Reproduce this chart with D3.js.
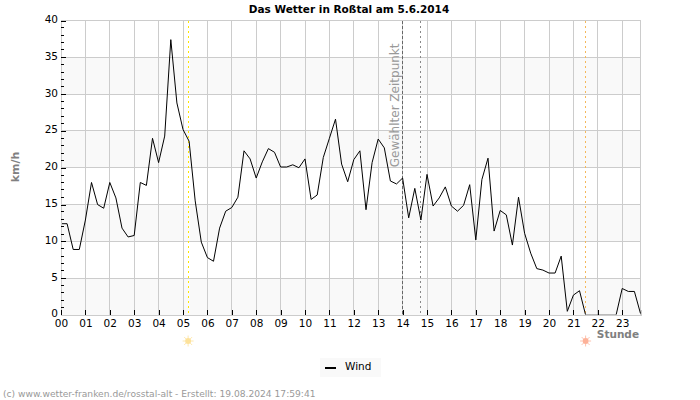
<!DOCTYPE html>
<html>
<head>
<meta charset="utf-8">
<script src="https://cdn.jsdelivr.net/npm/d3@7"></script>
<style>
  html, body { margin: 0; padding: 0; background: #fff; }
  svg { display: block; font-family: "DejaVu Sans", sans-serif; }
</style>
</head>
<body>
<svg id="chart"></svg>
<script>
// wind in km/h, one reading every 15 minutes from 00:00
const wind = [
  12.4, 12.4, 8.9, 8.9, 12.9, 18.0, 15.0, 14.5,
  18.0, 15.9, 11.8, 10.6, 10.8, 18.0, 17.6, 24.0,
  20.7, 24.3, 37.4, 28.8, 25.2, 23.6, 15.5, 9.9,
  7.8, 7.3, 11.8, 14.1, 14.6, 16.0, 22.3, 21.2,
  18.6, 20.8, 22.6, 22.1, 20.1, 20.1, 20.4, 20.0,
  21.2, 15.7, 16.3, 21.4, 24.0, 26.6, 20.5, 18.1,
  21.1, 22.3, 14.3, 20.7, 23.9, 22.7, 18.2, 17.8,
  18.6, 13.2, 17.2, 12.9, 19.1, 14.8, 15.9, 17.4,
  14.8, 14.1, 14.9, 17.7, 10.2, 18.4, 21.3, 11.4,
  14.2, 13.6, 9.5, 16.0, 11.1, 8.4, 6.3, 6.1,
  5.7, 5.7, 8.0, 0.5, 2.7, 3.3, 0, 0,
  0, 0, 0, 0, 3.6, 3.2, 3.2, 0.2
];
const hourTicks = d3.range(0, 24);
const valueTicks = d3.range(0, 41, 5);
const minorTicks = d3.range(0, 41, 1);
const bands = [[0, 5], [10, 15], [20, 25], [30, 35]];
const sunrise = 5.21;
const sunset = 21.5;
const selected = [14, 14.75];

const width = 700, height = 400;
const margin = {top: 20.5, right: 59.5, bottom: 85, left: 61};

const svg = d3.select("#chart").attr("width", width).attr("height", height);

const x = d3.scaleLinear().domain([0, 23.75]).range([margin.left, width - margin.right]);
const y = d3.scaleLinear().domain([0, 40]).range([height - margin.bottom, margin.top]);

// bands and grid
svg.append("g").selectAll("rect").data(bands).enter().append("rect")
    .attr("x", x(0))
    .attr("width", x(23.75) - x(0))
    .attr("y", d => y(d[1]))
    .attr("height", d => y(d[0]) - y(d[1]))
    .attr("fill", "#f9f9f9");

const grid = svg.append("g").attr("stroke", "#cccccc").attr("stroke-width", 1).attr("shape-rendering", "crispEdges");
grid.selectAll(".h").data(valueTicks).enter().append("line")
    .attr("x1", x(0)).attr("x2", x(23.75))
    .attr("y1", d => y(d)).attr("y2", d => y(d));
grid.selectAll(".v").data(hourTicks).enter().append("line")
    .attr("y1", y(0)).attr("y2", y(40))
    .attr("x1", d => x(d)).attr("x2", d => x(d));
grid.append("line")
    .attr("x1", x(23.75)).attr("x2", x(23.75))
    .attr("y1", y(0)).attr("y2", y(40));

// sun and selected time markers
const marker = (t, color, dash) => svg.append("line")
    .attr("x1", x(t)).attr("x2", x(t))
    .attr("y1", y(40)).attr("y2", y(0))
    .attr("stroke", color)
    .attr("stroke-dasharray", dash)
    .attr("shape-rendering", "crispEdges");
marker(sunrise, "#ffe600", "2,3");
marker(sunset, "#f5b85a", "2,3");
marker(selected[0], "#666666", "3,2");
marker(selected[1], "#888888", "2,3");

svg.append("text")
    .attr("transform", `translate(${x(14) - 3.5},${y(20) - 0.5}) rotate(-90)`)
    .attr("font-size", 12)
    .attr("fill", "#999999")
    .text("Gewählter Zeitpunkt");

// wind line, whatever lies on the zero line stays hidden
svg.append("clipPath").attr("id", "above-zero").append("rect")
    .attr("x", x(0)).attr("y", y(40))
    .attr("width", x(23.75) - x(0) + 1)
    .attr("height", y(0) - y(40) - 0.5);

const line = d3.line()
    .x((d, i) => x(i * 0.25))
    .y(d => y(d));
svg.append("path")
    .datum(wind)
    .attr("clip-path", "url(#above-zero)")
    .attr("fill", "none")
    .attr("stroke", "#000")
    .attr("stroke-width", 1)
    .attr("d", line);

// axes, ticks point into the plot
const yAxis = d3.axisLeft(y).tickValues(valueTicks).tickSize(-5).tickPadding(13);
const xAxis = d3.axisBottom(x).tickValues(hourTicks).tickSize(-5).tickPadding(12)
    .tickFormat(d3.format("02d"));

const gy = svg.append("g").attr("transform", `translate(${margin.left},0)`).call(yAxis);
const gx = svg.append("g").attr("transform", `translate(0,${y(0)})`).call(xAxis);
[gy, gx].forEach(g => {
    g.select(".domain").attr("stroke", "#cccccc").attr("shape-rendering", "crispEdges");
    g.selectAll(".tick line").attr("stroke", "#000").attr("shape-rendering", "crispEdges");
    g.selectAll("text").attr("font-size", 10.5).attr("font-family", "DejaVu Sans").attr("fill", "#000");
});
gy.selectAll(".tick text").attr("x", -3).attr("dy", "0.18em");
gx.selectAll(".tick text").attr("y", 4.5);

svg.append("g").selectAll("line").data(minorTicks.filter(d => d % 5 != 0)).enter().append("line")
    .attr("x1", x(0)).attr("x2", x(0) + 3)
    .attr("y1", d => y(d)).attr("y2", d => y(d))
    .attr("stroke", "#000")
    .attr("shape-rendering", "crispEdges");

// titles
svg.append("text")
    .attr("x", 349).attr("y", 12.5)
    .attr("text-anchor", "middle")
    .attr("font-size", 10.5)
    .attr("font-weight", "bold")
    .text("Das Wetter in Roßtal am 5.6.2014");

svg.append("text")
    .attr("transform", `translate(19,167) rotate(-90)`)
    .attr("text-anchor", "middle")
    .attr("font-size", 11)
    .attr("font-weight", "bold")
    .attr("fill", "#808080")
    .text("km/h");

svg.append("text")
    .attr("x", 639).attr("y", 338)
    .attr("text-anchor", "end")
    .attr("font-size", 10.5)
    .attr("font-weight", "bold")
    .attr("fill", "#808080")
    .text("Stunde");

// sun symbols under the axis
const sun = (t, color) => {
    const g = svg.append("g").attr("transform", `translate(${x(t)},341)`);
    g.append("circle").attr("r", 3).attr("fill", color);
    g.selectAll("line").data(d3.range(0, 360, 45)).enter().append("line")
        .attr("x1", 3).attr("x2", 5.5)
        .attr("transform", d => `rotate(${d})`)
        .attr("stroke", color)
        .attr("stroke-width", 0.8);
};
sun(sunrise, "#fde29b");
sun(sunset, "#fdb299");

// legend
svg.append("rect")
    .attr("x", 320).attr("y", 358)
    .attr("width", 61).attr("height", 19)
    .attr("fill", "#f9f9f9");
svg.append("line")
    .attr("x1", 325).attr("x2", 336)
    .attr("y1", 368).attr("y2", 368)
    .attr("stroke", "#000")
    .attr("stroke-width", 2)
    .attr("shape-rendering", "crispEdges");
svg.append("text")
    .attr("x", 345).attr("y", 370)
    .attr("font-size", 10.5)
    .text("Wind");

svg.append("text")
    .attr("x", 3).attr("y", 397)
    .attr("font-size", 9.15)
    .attr("fill", "#999999")
    .text("(c) www.wetter-franken.de/rosstal-alt - Erstellt: 19.08.2024 17:59:41");
</script>
</body>
</html>
